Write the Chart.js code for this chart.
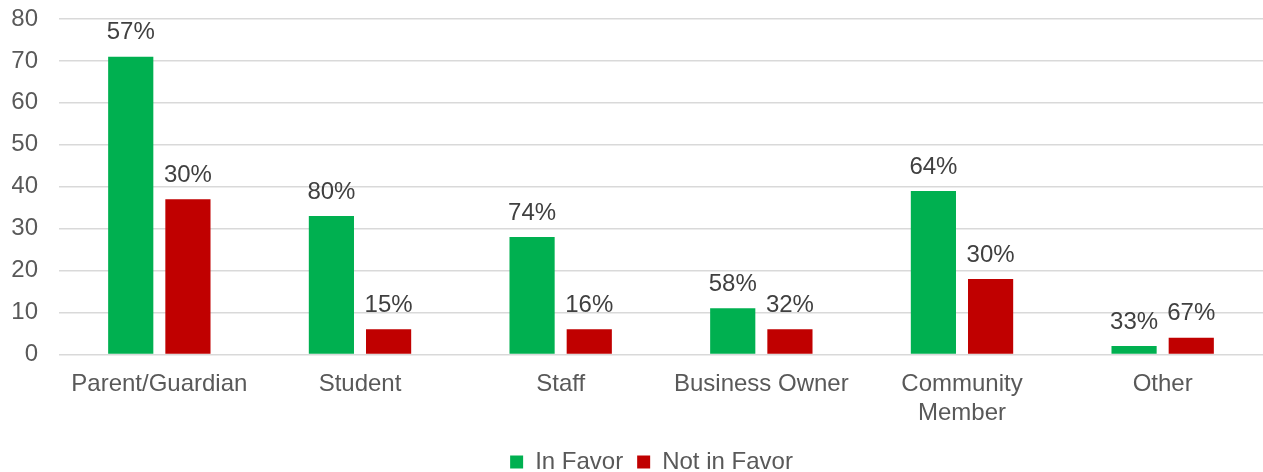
<!DOCTYPE html>
<html>
<head>
<meta charset="utf-8">
<script src="https://cdn.jsdelivr.net/npm/chart.js@4"></script>
<style>
  html, body { margin: 0; padding: 0; background: #fff; }
  #wrap { width: 1263px; height: 472px; }
</style>
</head>
<body>
<div id="wrap"><canvas id="chart"></canvas></div>
<script>
var categories = ["Parent/Guardian", "Student", "Staff", "Business Owner", ["Community", "Member"], "Other"];
var inFavor = [71, 33, 28, 11, 39, 2];
var notInFavor = [37, 6, 6, 6, 18, 4];
var inFavorPct = ["57%", "80%", "74%", "58%", "64%", "33%"];
var notInFavorPct = ["30%", "15%", "16%", "32%", "30%", "67%"];
var yTicks = [0, 10, 20, 30, 40, 50, 60, 70, 80];

// draws the percent text over each bar
var pctLabels = {
  id: "pctLabels",
  afterLayout: function (chart) {
    // legend sits a bit right of centre in the original
    chart.legend.left += 14;
    chart.legend.right += 14;
  },
  afterDatasetsDraw: function (chart) {
    var ctx = chart.ctx;
    var texts = [inFavorPct, notInFavorPct];
    ctx.save();
    ctx.font = "24px 'Liberation Sans', Arial, sans-serif";
    ctx.fillStyle = "#404040";
    ctx.textAlign = "center";
    ctx.textBaseline = "middle";
    chart.data.datasets.forEach(function (ds, i) {
      var meta = chart.getDatasetMeta(i);
      meta.data.forEach(function (bar, j) {
        ctx.fillText(texts[i][j], bar.x, bar.y - 24);
      });
    });
    ctx.restore();
  }
};

Chart.defaults.font.family = "'Liberation Sans', Arial, sans-serif";
Chart.defaults.font.size = 24;
Chart.defaults.color = "#595959";

new Chart(document.getElementById("chart"), {
  type: "bar",
  data: {
    labels: categories,
    datasets: [
      {
        label: "In Favor",
        data: inFavor,
        backgroundColor: "#00b050",
        categoryPercentage: 0.57,
        barPercentage: 0.79
      },
      {
        label: "Not in Favor",
        data: notInFavor,
        backgroundColor: "#c00000",
        categoryPercentage: 0.57,
        barPercentage: 0.79
      }
    ]
  },
  options: {
    responsive: true,
    maintainAspectRatio: false,
    animation: false,
    layout: { padding: { top: 19, right: 0, left: 12, bottom: -12 } },
    plugins: {
      legend: {
        position: "bottom",
        labels: {
          boxWidth: 13,
          boxHeight: 13,
          padding: 14,
          color: "#595959",
          font: { size: 24 }
        }
      },
      tooltip: { enabled: false }
    },
    scales: {
      x: {
        grid: { display: false },
        border: { display: false },
        ticks: { color: "#595959", font: { size: 24 }, padding: 8, maxRotation: 0 },
        afterFit: function (axis) {
          axis.paddingLeft = 0;
          axis.paddingRight = 0;
        }
      },
      y: {
        min: 0,
        max: 80,
        afterBuildTicks: function (axis) {
          axis.ticks = yTicks.map(function (v) { return { value: v }; });
        },
        afterFit: function (axis) {
          axis.width = 47;
          axis.paddingTop = 0;
          axis.paddingBottom = 0;
        },
        grid: { color: "#d9d9d9", lineWidth: 1.5, drawTicks: false },
        border: { display: false },
        ticks: { color: "#595959", font: { size: 24 }, padding: 21 }
      }
    }
  },
  plugins: [pctLabels]
});
</script>
</body>
</html>
